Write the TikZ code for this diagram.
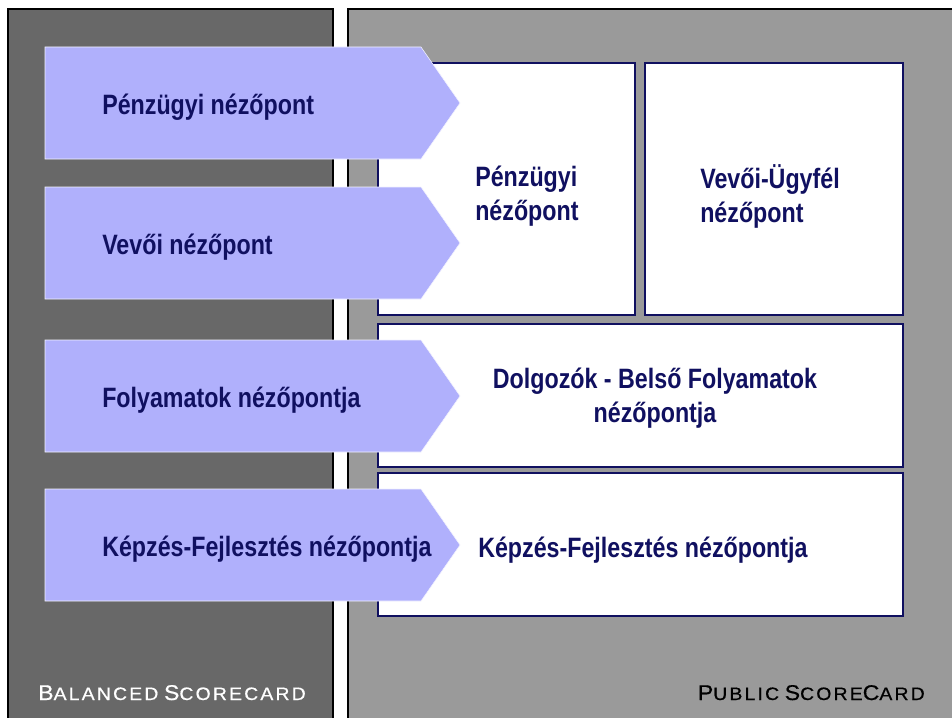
\documentclass[tikz,border=0pt]{standalone}
\usepackage{fontspec}
\setmainfont{Liberation Sans}
\newfontfamily\viewfont[FakeStretch=0.83]{Liberation Sans}
\newfontfamily\tagfont[LetterSpace=12,FakeStretch=1.08,FakeBold=0.6]{Liberation Sans}
\definecolor{bscgray}{HTML}{686868}
\definecolor{pscgray}{HTML}{9A9A9A}
\definecolor{lavender}{HTML}{B0B0FC}
\definecolor{navy}{HTML}{101060}
\newcommand{\smallcap}[2]{{\fontsize{16}{16}\selectfont #1}{\fontsize{13.5}{13.5}\selectfont #2}}
\begin{document}
\begin{tikzpicture}[x=0.75pt, y=-0.75pt,
	every node/.style={inner sep=0pt, text=navy, font=\viewfont\bfseries\fontsize{21}{25.5}\selectfont},
	panel/.style={draw=black, line width=1.2pt},
	viewbox/.style={draw=navy, fill=white, line width=1.4pt},
	arrowshape/.style={fill=lavender, draw=white!85!lavender, line width=0.4pt},
	tag/.style={font=\tagfont}]
	\useasboundingbox (0,0) rectangle (952,717);
	\draw[panel, fill=bscgray] (8,9) rectangle (333,725);
	\draw[panel, fill=pscgray] (348,9) rectangle (960,725);
	\draw[viewbox] (378,63) rectangle (635,315);
	\draw[viewbox] (645,63) rectangle (903,315);
	\draw[viewbox] (378,324) rectangle (903,467);
	\draw[viewbox] (378,473) rectangle (903,616);
	\foreach \top/\name/\txt in {47/penz/{Pénzügyi nézőpont}, 187/vevo/{Vevői nézőpont}, 340/foly/{Folyamatok nézőpontja}, 489/kepz/{Képzés-Fejlesztés nézőpontja}} {
		\draw[arrowshape] (45,\top) -- (421,\top) -- (460,\top+56) -- (421,\top+112) -- (45,\top+112) -- cycle;
		\node[anchor=west] (\name) at (102,\top+60) {\txt};
	}
	\node[anchor=west, align=left] (penzbox) at (475,196) {Pénzügyi\\nézőpont};
	\node[anchor=west, align=left] (vevobox) at (700,196) {Vevői-Ügyfél\\nézőpont};
	\node[align=center] (folybox) at (655,398) {Dolgozók - Belső Folyamatok\\nézőpontja};
	\node[anchor=west] (kepzbox) at (478,550) {Képzés-Fejlesztés nézőpontja};
	\node[tag, text=white, anchor=base west] (bsc) at (38,700) {\smallcap{B}{ALANCED} \smallcap{S}{CORECARD}};
	\node[tag, text=black, anchor=base east] (psc) at (925,700) {\smallcap{P}{UBLIC} \smallcap{S}{CORE}\smallcap{C}{ARD}};
\end{tikzpicture}
\end{document}
